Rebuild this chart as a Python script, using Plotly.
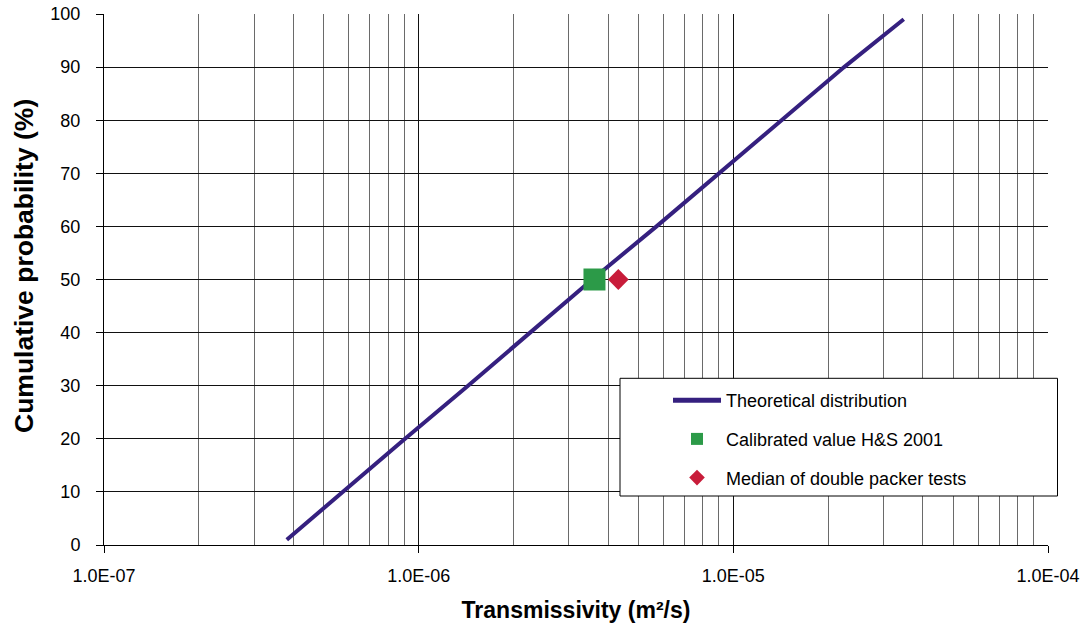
import plotly.graph_objects as go

# ---- data ----
dist_prob = [1, 10, 20, 30, 40, 50, 60, 70, 80, 90, 99]
dist_T = [3.81e-7, 5.72e-7, 9.05e-7, 1.435e-6, 2.25e-6, 3.56e-6,
          5.70e-6, 9.03e-6, 1.43e-5, 2.25e-5, 3.48e-5]

calib_T = [3.62e-6]
calib_prob = [50]

median_T = [4.31e-6]
median_prob = [50]

x_tick_vals = [1e-7, 1e-6, 1e-5, 1e-4]
x_tick_text = ["1.0E-07", "1.0E-06", "1.0E-05", "1.0E-04"]
x_minor_vals = [m * d for d in (1e-7, 1e-6, 1e-5) for m in range(2, 10)]
y_tick_vals = list(range(0, 101, 10))

x_title = "<b>Transmissivity (m²/s)</b>"
y_title = "<b>Cumulative probability (%)</b>"

FONT = "Liberation Sans, Arial, sans-serif"

fig = go.Figure()
fig.add_trace(go.Scatter(
    x=dist_T, y=dist_prob, mode="lines", name="Theoretical distribution",
    line=dict(color="#35207F", width=4), legendgroup="a"))
fig.add_trace(go.Scatter(
    x=calib_T, y=calib_prob, mode="markers", name="Calibrated value H&S 2001",
    marker=dict(symbol="square", size=22, color="#2C9A48"), legendgroup="b"))
fig.add_trace(go.Scatter(
    x=median_T, y=median_prob, mode="markers", name="Median of double packer tests",
    marker=dict(symbol="diamond", size=16, color="#C81C3A"), legendgroup="c"))

L, R, T, B = 104, 38, 14, 82
W, H = 1086, 627
pw, ph = W - L - R, H - T - B

def px_x(p):
    return (p - L) / pw

def px_y(p):
    return (H - B - p) / ph

fig.add_shape(type="rect", xref="paper", yref="paper",
              x0=px_x(620), x1=px_x(1057.5), y0=px_y(496), y1=px_y(378.3),
              fillcolor="white", line=dict(color="black", width=1), layer="above")

fig.add_annotation(text=y_title, textangle=-90, xref="paper", yref="paper",
                   x=px_x(24), y=px_y(266), xanchor="center", yanchor="middle",
                   showarrow=False,
                   font=dict(family=FONT, size=26.5, color="black"))

fig.update_xaxes(
    type="log", range=[-7, -4],
    tickvals=x_tick_vals, ticktext=x_tick_text,
    ticks="outside", ticklen=7, tickcolor="black", tickwidth=1,
    showgrid=True, gridcolor="#111111", gridwidth=1,
    minor=dict(tickvals=x_minor_vals, showgrid=True, gridcolor="#6a6a6a", gridwidth=1, ticks=""),
    showline=True, linecolor="black", linewidth=1,
    zeroline=False,
    tickfont=dict(family=FONT, size=18, color="black"),
    ticklabelstandoff=7,
    title=dict(text=x_title,
               font=dict(family=FONT, size=23, color="black"), standoff=17),
)
fig.update_yaxes(
    range=[0, 100], tickvals=y_tick_vals,
    ticks="outside", ticklen=7, tickcolor="black", tickwidth=1,
    showgrid=True, gridcolor="#111111", gridwidth=1,
    showline=True, linecolor="black", linewidth=1,
    zeroline=False,
    tickfont=dict(family=FONT, size=18, color="black"),
    ticklabelstandoff=12,
)

fig.update_layout(
    width=W, height=H,
    margin=dict(l=L, r=R, t=T, b=B, autoexpand=False),
    paper_bgcolor="white", plot_bgcolor="white",
    font=dict(family=FONT, size=18, color="black"),
    legend=dict(
        x=px_x(668), y=px_y(382), xanchor="left", yanchor="top",
        bgcolor="rgba(0,0,0,0)", borderwidth=0,
        traceorder="grouped", tracegroupgap=12.3,
        itemwidth=48, itemsizing="constant",
        font=dict(family=FONT, size=18, color="black"),
    ),
    showlegend=True,
)

fig.write_html("out.html")
